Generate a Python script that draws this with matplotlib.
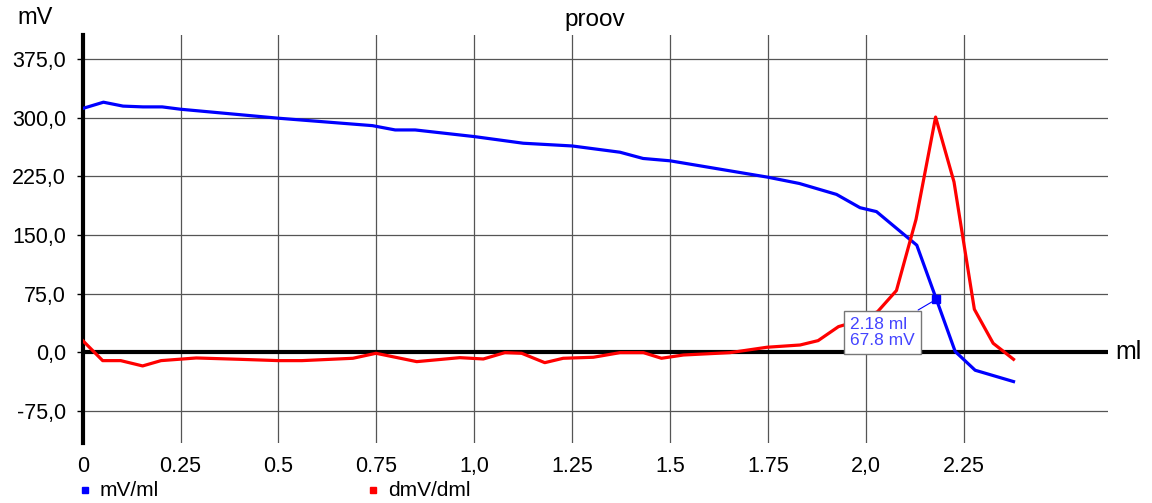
import matplotlib
matplotlib.use("Agg")
import matplotlib.pyplot as plt
from matplotlib.lines import Line2D

plt.rcParams['font.family'] = ['Liberation Sans', 'DejaVu Sans']

# ---- data ----
mv_x = [0, 0.053, 0.103, 0.154, 0.203, 0.25, 0.5, 0.74, 0.798, 0.849, 1.0, 1.125,
        1.25, 1.372, 1.431, 1.5, 1.75, 1.83, 1.925, 1.985, 2.027, 2.13, 2.18, 2.228,
        2.279, 2.377]
mv_y = [312, 320, 315, 314, 314, 311, 299.5, 290, 284.5, 284.5, 276, 267.5,
        264, 256, 248, 245, 224, 216, 202, 185, 180, 137, 67.8, 1, -23, -37.5]

dmv_x = [0, 0.051, 0.097, 0.153, 0.2, 0.29, 0.4, 0.5, 0.56, 0.69, 0.749, 0.853, 0.963,
         1.023, 1.078, 1.121, 1.18, 1.227, 1.304, 1.372, 1.432, 1.478, 1.534, 1.653,
         1.747, 1.832, 1.878, 1.93, 1.98, 2.03, 2.078, 2.128, 2.178, 2.225, 2.277,
         2.325, 2.377]
dmv_y = [15, -10.7, -10.7, -17.5, -10.7, -7.3, -9, -10.7, -10.7, -7.7, -1.3, -12, -6.9,
         -8.6, -0.5, -1.3, -13.3, -7.7, -6.4, -0.5, -0.5, -7.7, -3.5, -0.5,
         6.4, 9.3, 14.9, 32.8, 40, 52, 79, 170, 301, 218, 55,
         11.5, -9]

y_ticks = [-75, 0, 75, 150, 225, 300, 375]
y_labels = ["-75,0", "0,0", "75,0", "150,0", "225,0", "300,0", "375,0"]
x_ticks = [0, 0.25, 0.5, 0.75, 1.0, 1.25, 1.5, 1.75, 2.0, 2.25]
x_labels = ["0", "0.25", "0.5", "0.75", "1,0", "1.25", "1.5", "1.75", "2,0", "2.25"]

marker_x, marker_y = 2.18, 67.8

W, H = 1152, 503
fig = plt.figure(figsize=(W / 100, H / 100), dpi=100)
ax = fig.add_axes([82.7 / W, 1 - 443.3 / H, (1107.7 - 82.7) / W, (443.3 - 35) / H])
ax.set_xlim(0, 2.6175)
ax.set_ylim(-116.5, 406)

for s in ['top', 'right', 'bottom']:
    ax.spines[s].set_visible(False)
ax.spines['left'].set_linewidth(3.0)
ax.spines['left'].set_color('black')

ax.set_yticks(y_ticks)
ax.set_yticklabels(y_labels, fontsize=15.5)
ax.set_xticks(x_ticks)
ax.set_xticklabels(x_labels, fontsize=15.5)
ax.tick_params(axis='y', length=4, width=1, pad=8, color='black')
ax.tick_params(axis='x', length=0, pad=9)

ax.grid(True, color='#555555', linewidth=0.9)
ax.set_axisbelow(True)

ax.axhline(0, color='black', linewidth=3.0, zorder=2)

ax.plot(mv_x, mv_y, color='#0000ff', linewidth=2.3, zorder=3, solid_joinstyle='round')
ax.plot(dmv_x, dmv_y, color='#ff0000', linewidth=2.3, zorder=3, solid_joinstyle='round')

ax.plot([marker_x], [marker_y], marker='s', markersize=6, color='#0000ff', zorder=5)
ax.annotate("%.2f ml\n%.1f mV" % (marker_x, marker_y),
            xy=(marker_x, marker_y), xytext=(2.042, 25.3),
            ha='center', va='center', multialignment='left',
            fontsize=12.5, color='#4444ff', linespacing=1.15,
            bbox=dict(boxstyle='square,pad=0.35', fc='white', ec='#777777', lw=1),
            arrowprops=dict(arrowstyle='-', color='#0000ff', lw=0.8,
                            shrinkA=0, shrinkB=0, relpos=(0.88, 1.0)),
            zorder=4)

fig.text(595 / W, 1 - 20 / H, "proov", ha='center', va='center', fontsize=17.5)
fig.text(35 / W, 1 - 18 / H, "mV", ha='center', va='center', fontsize=17)
fig.text(1128 / W, 1 - 352 / H, "ml", ha='center', va='center', fontsize=18)

# legend
fig.add_artist(Line2D([85 / W], [1 - 490 / H], marker='s', markersize=5,
                      color='#0000ff', linestyle='none', transform=fig.transFigure))
fig.text(100 / W, 1 - 490 / H, "mV/ml", ha='left', va='center', fontsize=15)
fig.add_artist(Line2D([373 / W], [1 - 490 / H], marker='s', markersize=5,
                      color='#ff0000', linestyle='none', transform=fig.transFigure))
fig.text(388 / W, 1 - 490 / H, "dmV/dml", ha='left', va='center', fontsize=15)

fig.savefig("out.png", dpi=100)
